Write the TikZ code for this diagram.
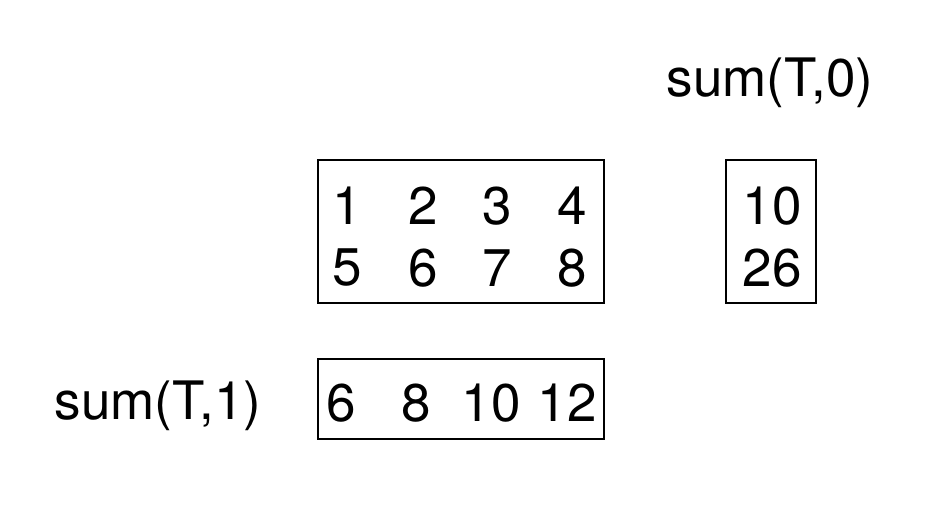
\documentclass[tikz,border=0pt]{standalone}
\usepackage{fontspec}
\setmainfont{TeX Gyre Heros}
\begin{document}
\begin{tikzpicture}[x=1pt,y=-1pt,
  box/.style={draw=black,line width=2pt},
  txt/.style={font=\fontsize{53}{62}\selectfont,inner sep=0pt,anchor=center}]
\useasboundingbox[fill=white] (0,0) rectangle (946,532);
\draw[box] (318,160) rectangle (604,303);
\draw[box] (726,160) rectangle (816,303);
\draw[box] (318,359) rectangle (604,439);
\node[txt] (s0) at (770,83) {sum(T,0)};
\node[txt] (s1) at (158,406) {sum(T,1)};
\node[txt] (a1) at (347,206) {1};
\node[txt] (a2) at (423,206) {2};
\node[txt] (a3) at (497,206) {3};
\node[txt] (a4) at (572,206) {4};
\node[txt] (a5) at (347,268) {5};
\node[txt] (a6) at (423,268) {6};
\node[txt] (a7) at (497,268) {7};
\node[txt] (a8) at (572,268) {8};
\node[txt] (r1) at (772,206) {10};
\node[txt] (r2) at (772,268) {26};
\node[txt] (b1) at (341,403) {6};
\node[txt] (b2) at (416,403) {8};
\node[txt] (b3) at (491,403) {10};
\node[txt] (b4) at (567,403) {12};
\end{tikzpicture}
\end{document}
